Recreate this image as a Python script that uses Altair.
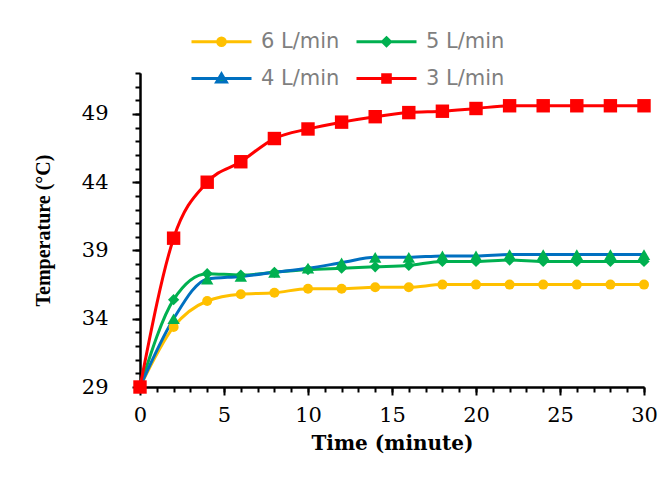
import altair as alt
import pandas as pd

# ---- data ----
times = [0, 2, 4, 6, 8, 10, 12, 14, 16, 18, 20, 22, 24, 26, 28, 30]
series_names = ["6 L/min", "5 L/min", "4 L/min", "3 L/min"]
temp_6 = [29, 33.4, 35.3, 35.8, 35.9, 36.2, 36.2, 36.3, 36.3, 36.5, 36.5, 36.5, 36.5, 36.5, 36.5, 36.5]
temp_5 = [29, 35.4, 37.3, 37.2, 37.4, 37.6, 37.7, 37.8, 37.9, 38.2, 38.2, 38.3, 38.2, 38.2, 38.2, 38.2]
temp_4 = [29, 34.0, 36.9, 37.1, 37.4, 37.7, 38.1, 38.5, 38.5, 38.6, 38.6, 38.7, 38.7, 38.7, 38.7, 38.7]
temp_3 = [29, 39.9, 44.0, 45.5, 47.2, 47.9, 48.4, 48.8, 49.1, 49.2, 49.4, 49.6, 49.6, 49.6, 49.6, 49.6]
x_minor = list(range(0, 31))
x_major = [0, 5, 10, 15, 20, 25, 30]
y_minor = list(range(29, 53))
y_major = [29, 34, 39, 44, 49]

# ---- styles ----
line_colors = ["#FFC000", "#00B050", "#0070C0", "#FF0000"]
marker_colors = ["#FFC000", "#00B050", "#00B050", "#FF0000"]
marker_shapes = ["circle", "diamond", "triangle-up", "square"]
LINE = "M-3,0H3"
legend_shapes = [
    LINE + "M-0.38,0A0.38,0.38 0 1,0 0.38,0A0.38,0.38 0 1,0 -0.38,0Z",
    LINE + "M0,-0.4L0.4,0L0,0.4L-0.4,0Z",
    LINE + "M0,-0.45L0.48,0.35L-0.48,0.35Z",
    LINE + "M-0.38,-0.38H0.38V0.38H-0.38Z",
]

rows = []
for name, vals in zip(series_names, [temp_6, temp_5, temp_4, temp_3]):
    for t, v in zip(times, vals):
        rows.append({"time": t, "temp": v, "series": name})
df = pd.DataFrame(rows)

x_scale = alt.Scale(domain=[0, 30], nice=False, zero=False)
y_scale = alt.Scale(domain=[29, 52], nice=False, zero=False)

axis_common = dict(domainColor="black", domainWidth=2, tickColor="black",
                   tickWidth=2, grid=False, labelFont="DejaVu Serif",
                   labelFontSize=21, labelColor="black", labelFlush=False)

base = alt.Chart(df)

lines = base.mark_line(strokeWidth=3, interpolate="monotone").encode(
    x=alt.X("time:Q", scale=x_scale,
            axis=alt.Axis(values=x_minor, tickSize=5, labels=False, title=None,
                          orient="bottom", **axis_common)),
    y=alt.Y("temp:Q", scale=y_scale,
            axis=alt.Axis(values=y_minor, tickSize=5, labels=False, title=None,
                          orient="left", **axis_common)),
    color=alt.Color("series:N", scale=alt.Scale(domain=series_names, range=line_colors),
                    legend=None),
    order=alt.Order("series_order:Q"),
).transform_calculate(series_order="indexof(%s, datum.series)" % str(series_names))

markers = base.mark_point(filled=True, opacity=1, strokeWidth=0).encode(
    x=alt.X("time:Q", scale=x_scale,
            axis=alt.Axis(values=x_major, tickSize=8, labelPadding=9,
                          title="Time (minute)", titleFont="DejaVu Serif",
                          titleFontSize=20, titleFontWeight="bold", titleColor="black",
                          titlePadding=8, orient="bottom", **axis_common)),
    y=alt.Y("temp:Q", scale=y_scale,
            axis=alt.Axis(values=y_major, tickSize=8, labelPadding=24,
                          title="Temperature (°C)", titleFont="Liberation Serif",
                          titleFontSize=20, titleFontWeight="bold", titleColor="black",
                          titlePadding=28, orient="left", **axis_common)),
    fill=alt.Fill("series:N", scale=alt.Scale(domain=series_names, range=marker_colors),
                  legend=None),
    shape=alt.Shape("series:N", scale=alt.Scale(domain=series_names, range=marker_shapes),
                    legend=None),
    size=alt.Size("series:N", scale=alt.Scale(domain=series_names, range=[100, 180, 170, 130]),
                  legend=None),
)

legend_obj = alt.Legend(title=None, orient="none", legendX=70, legendY=-43,
                        columns=2, direction="horizontal", symbolSize=400,
                        symbolStrokeWidth=3, symbolOpacity=1,
                        labelFont="DejaVu Sans", labelFontSize=21,
                        labelColor="#7f7f7f", labelOffset=28, columnPadding=10,
                        rowPadding=15, padding=0)

legend_layer = base.transform_filter("datum.time == 0").mark_point(
    filled=True, opacity=0).encode(
    x=alt.X("time:Q", scale=x_scale, axis=None),
    y=alt.Y("temp:Q", scale=y_scale, axis=None),
    stroke=alt.Stroke("series:N", scale=alt.Scale(domain=series_names, range=line_colors),
                      legend=legend_obj),
    fill=alt.Fill("series:N", scale=alt.Scale(domain=series_names, range=marker_colors),
                  legend=legend_obj),
    shape=alt.Shape("series:N", scale=alt.Scale(domain=series_names, range=legend_shapes),
                    legend=legend_obj),
)

chart = alt.layer(lines, markers, legend_layer).resolve_scale(
    shape="independent", fill="independent", stroke="independent", size="independent"
).resolve_axis(x="independent", y="independent").properties(
    width=504, height=314,
    autosize=alt.AutoSizeParams(type="none"),
    padding={"left": 132, "top": 65, "right": 16, "bottom": 75},
).configure_view(stroke=None)

chart.save("out.html", embed_options={"renderer": "svg", "actions": False})
